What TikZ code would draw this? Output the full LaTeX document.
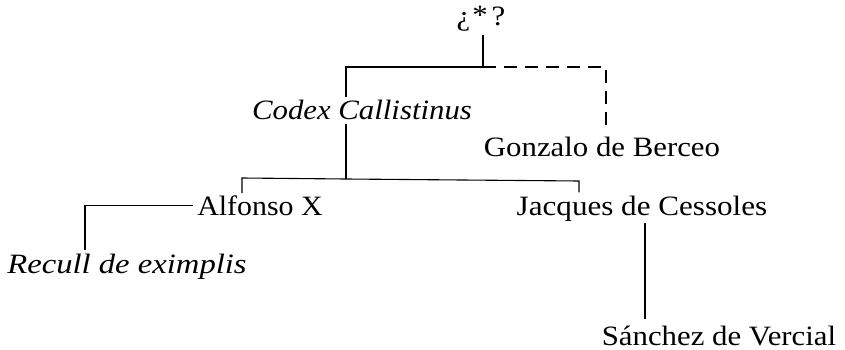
\documentclass[tikz,border=0pt]{standalone}
\usepackage{fontspec}
\setmainfont{Liberation Serif}[FakeStretch=1.1]
\begin{document}
\begin{tikzpicture}[x=1pt,y=-1pt,
  lbl/.style={inner sep=0pt,anchor=base,font=\fontsize{28}{32}\selectfont},
  ln/.style={line width=1.1pt},
  dl/.style={line width=1.1pt,dash pattern=on 13pt off 8pt}]
\useasboundingbox (0,0) rectangle (845,350);
\node[lbl] (top) at (481,26) {¿\kern2pt\raisebox{1pt}{*}\kern4pt?};
\node[lbl] (codex) at (362,120) {\itshape Codex Callistinus};
\node[lbl] (gonz) at (602,156) {Gonzalo de Berceo};
\node[lbl] (alf) at (260,215) {\scalebox{0.97}[1]{Alfonso X}};
\node[lbl] (jac) at (642,215) {\scalebox{1.01}[1]{Jacques de Cessoles}};
\node[lbl] (rec) at (127,273) {\itshape\scalebox{1.06}[1]{Recull de eximplis}};
\node[lbl] (san) at (719,345) {Sánchez de Vercial};
\coordinate (j1) at (483,67);
\coordinate (j2) at (346,179);
\draw[ln] ([yshift=-3pt]top.south -| j1) -- (j1) -| ([yshift=3pt]codex.north -| j2);
\draw[dl] (j1) -| ([yshift=6pt]gonz.north -| 606,0);
\draw[ln] ([yshift=-3pt]codex.south -| j2) -- (j2);
\draw[ln] (j2) -- (242,178) -- ([yshift=2pt]alf.north -| 242,0);
\draw[ln] (j2) -- (579,181) -- ([yshift=3pt]jac.north -| 579,0);
\draw[ln] ([xshift=-4pt]alf.west) -| ([yshift=3pt]rec.north -| 85,0);
\draw[ln] ([yshift=-2pt]jac.south -| 645,0) -- ([yshift=6pt]san.north -| 645,0);
\end{tikzpicture}
\end{document}
